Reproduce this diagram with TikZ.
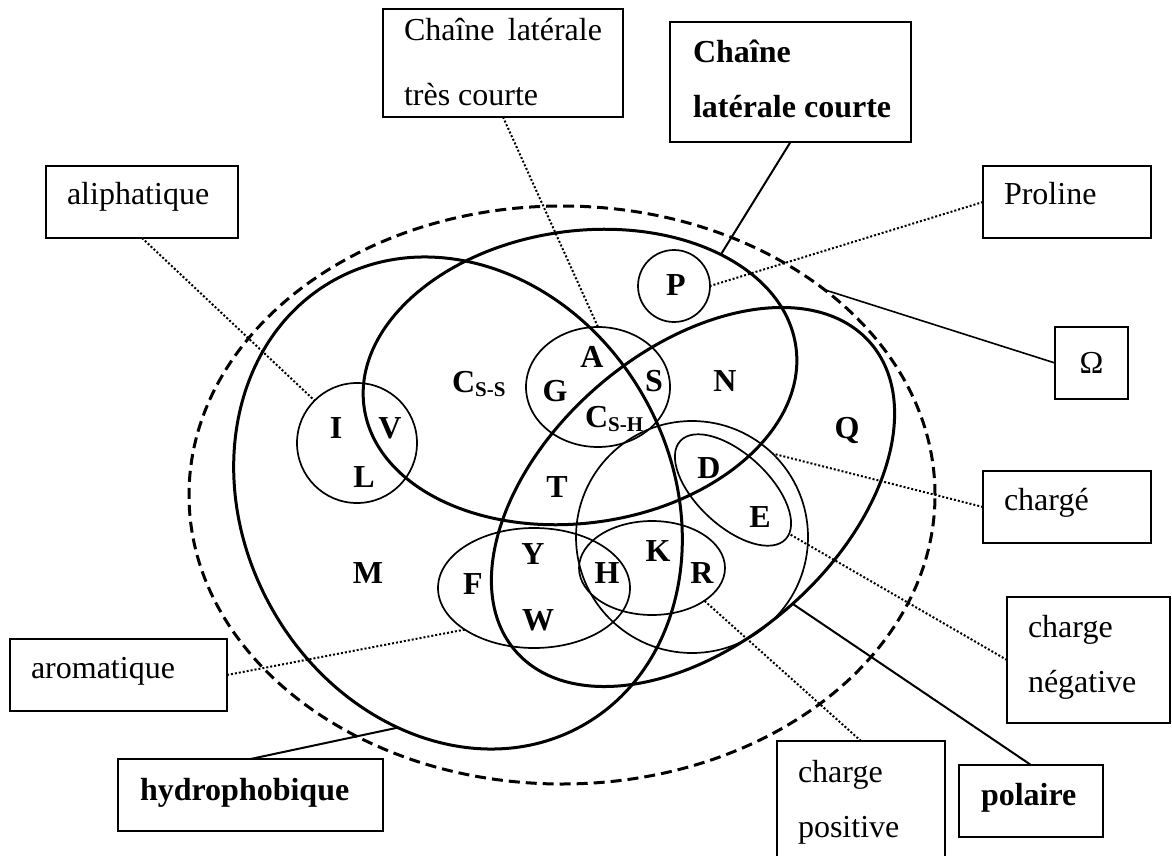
\documentclass[tikz,border=0pt]{standalone}
\usepackage{fontspec}
\setmainfont{Liberation Serif}
\usetikzlibrary{shapes.geometric}
\begin{document}
\begin{tikzpicture}[x=1pt,y=-1pt,
  every node/.style={inner sep=0pt,outer sep=0pt},
  txt/.style={font=\fontsize{32}{38}\selectfont,anchor=base west},
  btxt/.style={font=\fontsize{32}{38}\selectfont\bfseries,anchor=base west},
  aa/.style={font=\fontsize{32}{38}\selectfont\bfseries},
  box/.style={draw,line width=1.5pt,rectangle,anchor=north west},
  bbox/.style={draw,line width=2.4pt,rectangle,anchor=north west},
  thickset/.style={draw,line width=3pt},
  thinset/.style={draw,line width=1.7pt},
  dotline/.style={line width=2pt,dash pattern=on 2pt off 2pt},
  plainline/.style={line width=2pt}]
\useasboundingbox (0,0) rectangle (1172,856);

% outer dashed set (all amino acids)
\node[ellipse,draw,line width=3pt,dash pattern=on 11pt off 6pt,
      minimum width=746pt,minimum height=578pt] (omega) at (562,495) {};

% main sets: hydrophobic, small, polar
\node[ellipse,thickset,minimum width=428pt,minimum height=510pt,rotate=29] (hyd) at (458,503) {};
\node[ellipse,thickset,minimum width=436pt,minimum height=292pt,rotate=8] (small) at (580,377) {};
\node[ellipse,thickset,minimum width=470pt,minimum height=292pt,rotate=41] (pol) at (693,497) {};

% subsets
\node[circle,thinset,minimum size=120pt] (ali) at (357,443) {};
\node[circle,thinset,minimum size=72pt] (Pc) at (674,286) {};
\node[ellipse,thinset,minimum width=144pt,minimum height=120pt] (tiny) at (598,387) {};
\node[circle,thinset,minimum size=232pt] (charged) at (692,537) {};
\node[ellipse,thinset,minimum width=144pt,minimum height=72pt,rotate=-43] (neg) at (733,490) {};
\node[ellipse,thinset,minimum width=146pt,minimum height=94pt] (pos) at (652,568) {};
\node[ellipse,thinset,minimum width=192pt,minimum height=120pt] (arom) at (534,588) {};

% amino acid letters
\node[aa] (lP) at (676,285) {P};
\node[aa] (lA) at (592,357) {A};
\node[aa] (lG) at (555,391) {G};
\node[aa] (lS) at (654,381) {S};
\node[aa] (lN) at (725,381) {N};
\node[aa] (lT) at (557,487) {T};
\node[aa] (lD) at (709,468) {D};
\node[aa] (lE) at (760,517) {E};
\node[aa] (lQ) at (847,430) {Q};
\node[aa] (lK) at (658,551) {K};
\node[aa] (lR) at (702,573) {R};
\node[aa] (lH) at (607,573) {H};
\node[aa] (lY) at (533,554) {Y};
\node[aa] (lW) at (538,620) {W};
\node[aa] (lF) at (473,584) {F};
\node[aa] (lM) at (368,573) {M};
\node[aa] (lI) at (336,428) {I};
\node[aa] (lV) at (390,428) {V};
\node[aa] (lL) at (364,477) {L};
\node[btxt] (lCss) at (452,392) {C\raisebox{-4pt}{\fontsize{21}{24}\selectfont S-S}};
\node[btxt] (lCsh) at (585,427) {C\raisebox{-4pt}{\fontsize{21}{24}\selectfont S-H}};

% label boxes
\node[box,minimum width=240pt,minimum height=108pt] (boxA) at (383,9) {};
\node[txt] (tA1) at (404,41) {\makebox[198pt][s]{Chaîne\hfill latérale}};
\node[txt] (tA2) at (404,106) {très courte};

\node[bbox,minimum width=241pt,minimum height=120pt] (boxB) at (670,22) {};
\node[btxt] (tB1) at (693,63) {Chaîne};
\node[btxt] (tB2) at (693,118) {latérale courte};

\node[box,minimum width=192pt,minimum height=72pt] (alibox) at (46,166) {};
\node[txt] (tali) at (67,204) {aliphatique};

\node[box,minimum width=168pt,minimum height=72pt] (probox) at (983,166) {};
\node[txt] (tpro) at (1004,204) {Proline};

\node[box,minimum width=73pt,minimum height=72pt,font=\fontsize{32}{38}\selectfont] (ombox) at (1055,327) {Ω};

\node[box,minimum width=168pt,minimum height=72pt] (chbox) at (983,471) {};
\node[txt] (tch) at (1004,510) {chargé};

\node[box,minimum width=163pt,minimum height=126pt] (negbox) at (1007,597) {};
\node[txt] (tneg1) at (1028,637) {charge};
\node[txt] (tneg2) at (1028,692) {négative};

\node[box,minimum width=217pt,minimum height=72pt] (arobox) at (10,639) {};
\node[txt] (taro) at (31,678) {aromatique};

\node[bbox,minimum width=265pt,minimum height=72pt] (hydbox) at (118,759) {};
\node[btxt] (thyd) at (140,800) {hydrophobique};

\node[box,minimum width=168pt,minimum height=140pt] (posbox) at (777,741) {};
\node[txt] (tpos1) at (798,782) {charge};
\node[txt] (tpos2) at (798,837) {positive};

\node[bbox,minimum width=144pt,minimum height=72pt] (polbox) at (959,765) {};
\node[btxt] (tpol) at (981,805) {polaire};

% connectors
\draw[dotline] (boxA.south) -- (tiny.north);
\draw[plainline] (boxB.south) -- (small.33);
\draw[dotline] (probox.west) -- (Pc.east);
\draw[plainline,line width=1.6pt] (ombox.west) -- (omega.38);
\draw[dotline] (alibox.south) -- (ali.135);
\draw[dotline] (chbox.west) -- (charged.46);
\draw[dotline] (negbox.west) -- (neg.5);
\draw[dotline] (arobox.east) -- (arom.211);
\draw[plainline] (hydbox.north) -- (hyd.226);
\draw[dotline] (posbox.north) -- (pos.-32);
\draw[plainline] (polbox.north) -- (pol.-88);
\end{tikzpicture}
\end{document}
